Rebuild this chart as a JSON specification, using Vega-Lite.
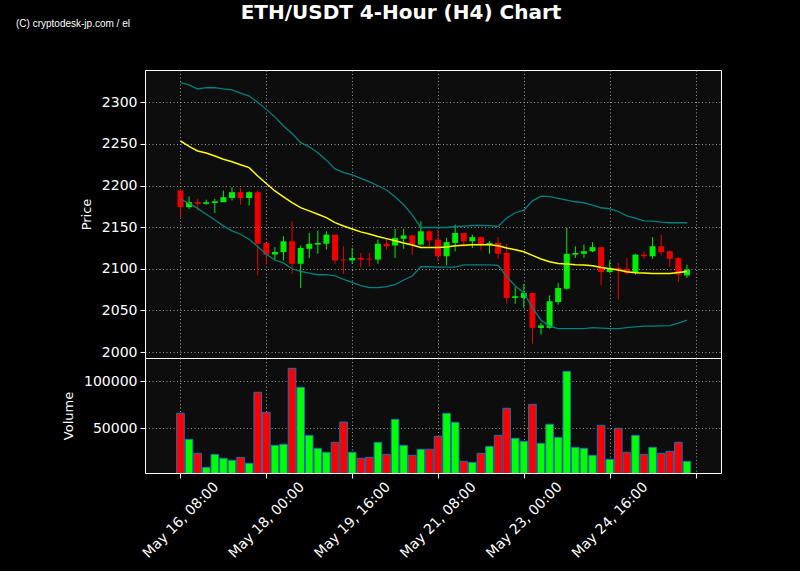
{
  "$schema": "https://vega.github.io/schema/vega-lite/v6.json",
  "background": "#000000",
  "autosize": {"type": "pad"},
  "padding": {"left": 15, "top": 2, "right": 80, "bottom": 10},
  "bounds": "flush",
  "spacing": 0,
  "title": {
    "text": "ETH/USDT 4-Hour (H4) Chart",
    "frame": "group",
    "anchor": "middle",
    "dx": -32,
    "offset": -20,
    "baseline": "alphabetic",
    "font": "DejaVu Sans",
    "fontSize": 20,
    "fontWeight": "bold",
    "color": "white"
  },
  "config": {
    "view": {"stroke": "white", "strokeWidth": 1, "fill": "#0d0d0d"},
    "scale": {"continuousPadding": 0},
    "axis": {
      "labelColor": "white",
      "titleColor": "white",
      "tickColor": "white",
      "domain": false,
      "labelFont": "DejaVu Sans",
      "titleFont": "DejaVu Sans",
      "labelFontSize": 14,
      "titleFontSize": 13,
      "titleFontWeight": "normal",
      "tickSize": 5,
      "labelPadding": 3,
      "gridColor": "#b0b0b0",
      "gridDash": [1, 2.5],
      "gridOpacity": 0.85,
      "gridWidth": 1
    }
  },
  "data": {"values": [
    {"t":"2022-05-16T08:00:00Z","o":2194,"h":2195,"l":2162,"c":2174,"v":66000,"ma":2253.5,"ub":2323.5,"lb":2183.5},
    {"t":"2022-05-16T12:00:00Z","o":2174,"h":2187,"l":2172,"c":2180,"v":38300,"ma":2247,"ub":2321,"lb":2178.5},
    {"t":"2022-05-16T16:00:00Z","o":2180,"h":2184,"l":2170,"c":2178,"v":23400,"ma":2241.5,"ub":2316,"lb":2172.5},
    {"t":"2022-05-16T20:00:00Z","o":2178,"h":2183,"l":2177,"c":2180,"v":8500,"ma":2239,"ub":2317.5,"lb":2165.5},
    {"t":"2022-05-17T00:00:00Z","o":2179,"h":2184,"l":2167,"c":2181,"v":22300,"ma":2235.5,"ub":2317.5,"lb":2158.5},
    {"t":"2022-05-17T04:00:00Z","o":2180,"h":2194,"l":2180,"c":2186,"v":18100,"ma":2231.5,"ub":2316,"lb":2151.5},
    {"t":"2022-05-17T08:00:00Z","o":2185,"h":2198,"l":2182,"c":2192,"v":16000,"ma":2228.5,"ub":2315,"lb":2145.5},
    {"t":"2022-05-17T12:00:00Z","o":2192,"h":2197,"l":2177,"c":2185,"v":19100,"ma":2225,"ub":2311,"lb":2141.5},
    {"t":"2022-05-17T16:00:00Z","o":2185,"h":2193,"l":2176,"c":2192,"v":12800,"ma":2221.5,"ub":2307.5,"lb":2135.5},
    {"t":"2022-05-17T20:00:00Z","o":2192,"h":2194,"l":2092,"c":2130,"v":88300,"ma":2211.5,"ub":2300,"lb":2126.5},
    {"t":"2022-05-18T00:00:00Z","o":2131,"h":2131,"l":2105,"c":2117,"v":67000,"ma":2202.5,"ub":2291.5,"lb":2117.5},
    {"t":"2022-05-18T04:00:00Z","o":2117,"h":2126,"l":2110,"c":2120,"v":31900,"ma":2193.5,"ub":2282.5,"lb":2110.5},
    {"t":"2022-05-18T08:00:00Z","o":2120,"h":2139,"l":2110,"c":2133,"v":33000,"ma":2186.5,"ub":2271.5,"lb":2107},
    {"t":"2022-05-18T12:00:00Z","o":2133,"h":2157,"l":2094,"c":2106,"v":113800,"ma":2179.5,"ub":2262.5,"lb":2100},
    {"t":"2022-05-18T16:00:00Z","o":2106,"h":2128,"l":2077,"c":2125,"v":93600,"ma":2173.5,"ub":2251.5,"lb":2096.8},
    {"t":"2022-05-18T20:00:00Z","o":2124,"h":2143,"l":2113,"c":2130,"v":42500,"ma":2169.5,"ub":2246.5,"lb":2094.8},
    {"t":"2022-05-19T00:00:00Z","o":2129,"h":2146,"l":2118,"c":2131,"v":28700,"ma":2165.5,"ub":2239.5,"lb":2092.8},
    {"t":"2022-05-19T04:00:00Z","o":2130,"h":2145,"l":2123,"c":2141,"v":24500,"ma":2161.5,"ub":2230.5,"lb":2093},
    {"t":"2022-05-19T08:00:00Z","o":2141,"h":2141,"l":2106,"c":2110,"v":35100,"ma":2155.5,"ub":2220,"lb":2091.6},
    {"t":"2022-05-19T12:00:00Z","o":2111,"h":2127,"l":2094,"c":2110,"v":56700,"ma":2151.3,"ub":2215.5,"lb":2087.3},
    {"t":"2022-05-19T16:00:00Z","o":2110,"h":2125,"l":2106,"c":2113,"v":24500,"ma":2147.7,"ub":2212.8,"lb":2083.7},
    {"t":"2022-05-19T20:00:00Z","o":2113,"h":2119,"l":2102,"c":2111,"v":18100,"ma":2144.3,"ub":2208.7,"lb":2079.7},
    {"t":"2022-05-20T00:00:00Z","o":2112,"h":2119,"l":2103,"c":2111,"v":19100,"ma":2141.7,"ub":2204.7,"lb":2077.3},
    {"t":"2022-05-20T04:00:00Z","o":2111,"h":2135,"l":2106,"c":2130,"v":35100,"ma":2138.8,"ub":2199.7,"lb":2077.3},
    {"t":"2022-05-20T08:00:00Z","o":2130,"h":2137,"l":2123,"c":2127,"v":22300,"ma":2136.2,"ub":2194.6,"lb":2078.5},
    {"t":"2022-05-20T12:00:00Z","o":2128,"h":2148,"l":2113,"c":2137,"v":59600,"ma":2133.6,"ub":2186.6,"lb":2081},
    {"t":"2022-05-20T16:00:00Z","o":2136,"h":2148,"l":2124,"c":2140,"v":31900,"ma":2130.9,"ub":2176.9,"lb":2086.5},
    {"t":"2022-05-20T20:00:00Z","o":2140,"h":2141,"l":2117,"c":2129,"v":21300,"ma":2128.5,"ub":2164.8,"lb":2091.3},
    {"t":"2022-05-21T00:00:00Z","o":2129,"h":2157,"l":2128,"c":2145,"v":27700,"ma":2125.5,"ub":2149.6,"lb":2102.4},
    {"t":"2022-05-21T04:00:00Z","o":2145,"h":2146,"l":2126,"c":2134,"v":27700,"ma":2125.5,"ub":2149.6,"lb":2102.4},
    {"t":"2022-05-21T08:00:00Z","o":2135,"h":2147,"l":2109,"c":2115,"v":41500,"ma":2125.5,"ub":2149.6,"lb":2102},
    {"t":"2022-05-21T12:00:00Z","o":2115,"h":2137,"l":2104,"c":2132,"v":66000,"ma":2126.2,"ub":2149.6,"lb":2102},
    {"t":"2022-05-21T16:00:00Z","o":2131,"h":2153,"l":2121,"c":2143,"v":56400,"ma":2127.6,"ub":2150.8,"lb":2102},
    {"t":"2022-05-21T20:00:00Z","o":2143,"h":2143,"l":2127,"c":2133,"v":14900,"ma":2128.2,"ub":2151.3,"lb":2104.8},
    {"t":"2022-05-22T00:00:00Z","o":2133,"h":2141,"l":2125,"c":2138,"v":13800,"ma":2128.8,"ub":2152,"lb":2104.8},
    {"t":"2022-05-22T04:00:00Z","o":2138,"h":2139,"l":2122,"c":2129,"v":23400,"ma":2128.8,"ub":2152,"lb":2104.8},
    {"t":"2022-05-22T08:00:00Z","o":2129,"h":2133,"l":2118,"c":2131,"v":30800,"ma":2128.8,"ub":2151.8,"lb":2104.8},
    {"t":"2022-05-22T12:00:00Z","o":2131,"h":2138,"l":2112,"c":2118,"v":42500,"ma":2127.6,"ub":2150.8,"lb":2104},
    {"t":"2022-05-22T16:00:00Z","o":2119,"h":2130,"l":2058,"c":2065,"v":71300,"ma":2124.9,"ub":2160.9,"lb":2090.6},
    {"t":"2022-05-22T20:00:00Z","o":2065,"h":2078,"l":2058,"c":2067,"v":39400,"ma":2122.9,"ub":2167.3,"lb":2079.3},
    {"t":"2022-05-23T00:00:00Z","o":2065,"h":2082,"l":2053,"c":2071,"v":36200,"ma":2120.4,"ub":2170.5,"lb":2071.2},
    {"t":"2022-05-23T04:00:00Z","o":2071,"h":2071,"l":2010,"c":2029,"v":75500,"ma":2116.1,"ub":2181.6,"lb":2053.2},
    {"t":"2022-05-23T08:00:00Z","o":2029,"h":2035,"l":2021,"c":2032,"v":34000,"ma":2111.7,"ub":2187.3,"lb":2038.2},
    {"t":"2022-05-23T12:00:00Z","o":2029,"h":2068,"l":2028,"c":2061,"v":54300,"ma":2108.5,"ub":2186.6,"lb":2031.2},
    {"t":"2022-05-23T16:00:00Z","o":2060,"h":2083,"l":2057,"c":2077,"v":40400,"ma":2106.4,"ub":2184.6,"lb":2028},
    {"t":"2022-05-23T20:00:00Z","o":2076,"h":2149,"l":2075,"c":2118,"v":110600,"ma":2105.6,"ub":2182.6,"lb":2028},
    {"t":"2022-05-24T00:00:00Z","o":2117,"h":2127,"l":2113,"c":2119,"v":29800,"ma":2104.8,"ub":2180.5,"lb":2028},
    {"t":"2022-05-24T04:00:00Z","o":2118,"h":2129,"l":2113,"c":2121,"v":28700,"ma":2104.4,"ub":2179.3,"lb":2028.2},
    {"t":"2022-05-24T08:00:00Z","o":2121,"h":2132,"l":2120,"c":2126,"v":21300,"ma":2103.6,"ub":2176.5,"lb":2029.2},
    {"t":"2022-05-24T12:00:00Z","o":2126,"h":2126,"l":2080,"c":2096,"v":53200,"ma":2101.6,"ub":2173.3,"lb":2028.7},
    {"t":"2022-05-24T16:00:00Z","o":2096,"h":2110,"l":2095,"c":2101,"v":17000,"ma":2100,"ub":2172.1,"lb":2028.2},
    {"t":"2022-05-24T20:00:00Z","o":2101,"h":2107,"l":2063,"c":2099,"v":50000,"ma":2098.4,"ub":2168.8,"lb":2028.2},
    {"t":"2022-05-25T00:00:00Z","o":2100,"h":2113,"l":2093,"c":2095,"v":24500,"ma":2096.4,"ub":2163.6,"lb":2029.2},
    {"t":"2022-05-25T04:00:00Z","o":2095,"h":2118,"l":2093,"c":2117,"v":42500,"ma":2095.2,"ub":2160.9,"lb":2030.2},
    {"t":"2022-05-25T08:00:00Z","o":2117,"h":2121,"l":2112,"c":2115,"v":22300,"ma":2094.8,"ub":2157.6,"lb":2031.2},
    {"t":"2022-05-25T12:00:00Z","o":2115,"h":2138,"l":2112,"c":2127,"v":29800,"ma":2094.4,"ub":2157.3,"lb":2031.2},
    {"t":"2022-05-25T16:00:00Z","o":2127,"h":2141,"l":2116,"c":2120,"v":23400,"ma":2094.4,"ub":2156,"lb":2031.5},
    {"t":"2022-05-25T20:00:00Z","o":2121,"h":2122,"l":2102,"c":2112,"v":25500,"ma":2094.4,"ub":2155.3,"lb":2031.7},
    {"t":"2022-05-26T00:00:00Z","o":2113,"h":2114,"l":2084,"c":2093,"v":35100,"ma":2095.6,"ub":2155.3,"lb":2034.8},
    {"t":"2022-05-26T04:00:00Z","o":2092,"h":2105,"l":2089,"c":2099,"v":14900,"ma":2096.8,"ub":2155.3,"lb":2038.3}
  ]},
  "vconcat": [
    {
      "width": 576,
      "height": 288,
      "title": {
        "text": "(C) cryptodesk-jp.com / el",
        "frame": "group",
        "anchor": "start",
        "dx": -129,
        "offset": 33,
        "baseline": "alphabetic",
        "font": "Liberation Sans",
        "fontSize": 10,
        "fontWeight": "normal",
        "color": "white"
      },
      "encoding": {
        "x": {
          "field": "t",
          "type": "temporal",
          "scale": {"type": "utc", "nice": false, "padding": 0, "domain": [
            {"year": 2022, "month": 5, "date": 15, "hours": 15, "minutes": 28, "utc": true},
            {"year": 2022, "month": 5, "date": 26, "hours": 19, "minutes": 52, "utc": true}
          ]},
          "axis": {
            "title": null,
            "labels": false,
            "ticks": false,
            "grid": true,
            "values": [
              {"year": 2022, "month": 5, "date": 16, "hours": 8, "utc": true},
              {"year": 2022, "month": 5, "date": 18, "hours": 0, "utc": true},
              {"year": 2022, "month": 5, "date": 19, "hours": 16, "utc": true},
              {"year": 2022, "month": 5, "date": 21, "hours": 8, "utc": true},
              {"year": 2022, "month": 5, "date": 23, "hours": 0, "utc": true},
              {"year": 2022, "month": 5, "date": 24, "hours": 16, "utc": true},
              {"year": 2022, "month": 5, "date": 26, "hours": 8, "utc": true}
            ]
          }
        }
      },
      "layer": [
        {
          "mark": {"type": "rule", "strokeWidth": 1},
          "encoding": {
            "y": {
              "field": "l",
              "type": "quantitative",
              "scale": {"domain": [1992.8, 2338.8], "zero": false, "nice": false},
              "axis": {"title": "Price", "values": [2000, 2050, 2100, 2150, 2200, 2250, 2300], "format": "d", "grid": true, "titlePadding": 8}
            },
            "y2": {"field": "h"},
            "color": {"condition": {"test": "datum.c >= datum.o", "value": "#00ee00"}, "value": "#ee0000"}
          }
        },
        {
          "mark": {"type": "bar", "size": 6},
          "encoding": {
            "y": {"field": "o", "type": "quantitative"},
            "y2": {"field": "c"},
            "color": {"condition": {"test": "datum.c >= datum.o", "value": "#00ee00"}, "value": "#ee0000"}
          }
        },
        {
          "mark": {"type": "line", "color": "#008080", "strokeWidth": 1.3},
          "encoding": {"y": {"field": "ub", "type": "quantitative"}}
        },
        {
          "mark": {"type": "line", "color": "#008080", "strokeWidth": 1.3},
          "encoding": {"y": {"field": "lb", "type": "quantitative"}}
        },
        {
          "mark": {"type": "line", "color": "#ffff00", "strokeWidth": 1.5},
          "encoding": {"y": {"field": "ma", "type": "quantitative"}}
        }
      ]
    },
    {
      "width": 576,
      "height": 115,
      "mark": {"type": "bar", "size": 7.6, "stroke": "#1f6fb0", "strokeWidth": 1, "clip": true},
      "encoding": {
        "x": {
          "field": "t",
          "type": "temporal",
          "scale": {"type": "utc", "nice": false, "padding": 0, "domain": [
            {"year": 2022, "month": 5, "date": 15, "hours": 15, "minutes": 28, "utc": true},
            {"year": 2022, "month": 5, "date": 26, "hours": 19, "minutes": 52, "utc": true}
          ]},
          "axis": {
            "title": null,
            "grid": true,
            "labelAngle": -45,
            "labelAlign": "center",
            "labelBaseline": "middle",
            "labelPadding": 42,
            "labelFontSize": 14,
            "labelExpr": "utcdate(datum.value) == 26 ? '' : utcFormat(datum.value, '%b %d, %H:%M')",
            "values": [
              {"year": 2022, "month": 5, "date": 16, "hours": 8, "utc": true},
              {"year": 2022, "month": 5, "date": 18, "hours": 0, "utc": true},
              {"year": 2022, "month": 5, "date": 19, "hours": 16, "utc": true},
              {"year": 2022, "month": 5, "date": 21, "hours": 8, "utc": true},
              {"year": 2022, "month": 5, "date": 23, "hours": 0, "utc": true},
              {"year": 2022, "month": 5, "date": 24, "hours": 16, "utc": true},
              {"year": 2022, "month": 5, "date": 26, "hours": 8, "utc": true}
            ]
          }
        },
        "y": {
          "field": "v",
          "type": "quantitative",
          "scale": {"domain": [2450, 124800], "zero": false, "nice": false},
          "axis": {"title": "Volume", "values": [50000, 100000], "format": "d", "grid": true, "titlePadding": 8}
        },
        "fill": {"condition": {"test": "datum.c >= datum.o", "value": "#00ff00"}, "value": "#ff0000"}
      }
    }
  ]
}
